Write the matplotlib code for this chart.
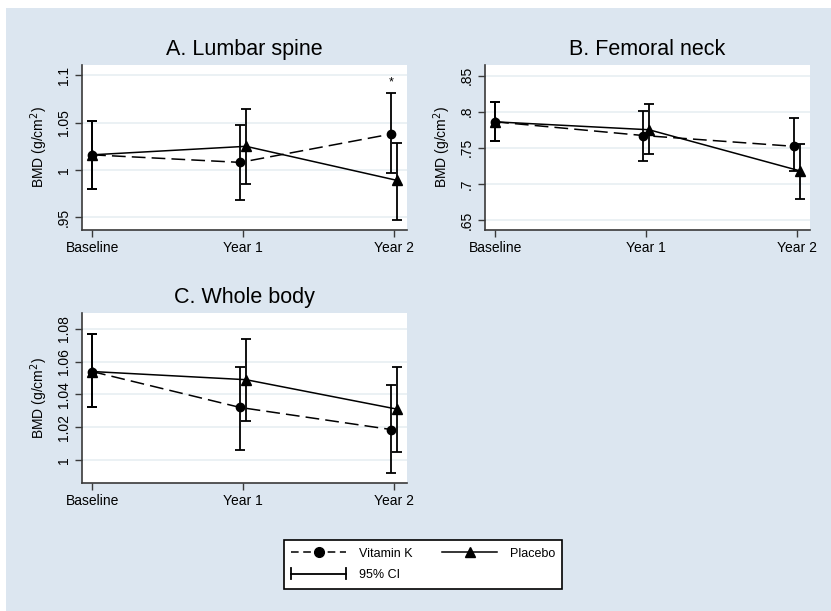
import matplotlib

matplotlib.use("Agg")
import matplotlib.pyplot as plt
from matplotlib.legend_handler import HandlerBase
from matplotlib.lines import Line2D
from matplotlib.patches import Rectangle


# 数据：均值与 95% CI
TIME_LABELS = ["Baseline", "Year 1", "Year 2"]
TIME_POS = [0, 1, 2]
VK_SHIFT = [0.0, -0.018, -0.018]
PL_SHIFT = [0.0, 0.02, 0.02]

LUMBAR_VK = [1.016, 1.008, 1.038]
LUMBAR_VK_LO = [0.980, 0.968, 0.997]
LUMBAR_VK_HI = [1.052, 1.048, 1.081]
LUMBAR_PL = [1.016, 1.025, 0.989]
LUMBAR_PL_LO = [0.980, 0.985, 0.947]
LUMBAR_PL_HI = [1.052, 1.064, 1.029]

FEMORAL_VK = [0.786, 0.767, 0.752]
FEMORAL_VK_LO = [0.760, 0.731, 0.718]
FEMORAL_VK_HI = [0.814, 0.801, 0.791]
FEMORAL_PL = [0.786, 0.775, 0.718]
FEMORAL_PL_LO = [0.760, 0.741, 0.679]
FEMORAL_PL_HI = [0.814, 0.811, 0.755]

WHOLE_VK = [1.054, 1.032, 1.0185]
WHOLE_VK_LO = [1.032, 1.006, 0.992]
WHOLE_VK_HI = [1.077, 1.057, 1.046]
WHOLE_PL = [1.054, 1.049, 1.031]
WHOLE_PL_LO = [1.032, 1.024, 1.005]
WHOLE_PL_HI = [1.077, 1.074, 1.057]

LUMBAR_TICKS = [0.95, 1.0, 1.05, 1.1]
LUMBAR_TICKLABELS = [".95", "1", "1.05", "1.1"]
FEMORAL_TICKS = [0.65, 0.70, 0.75, 0.80, 0.85]
FEMORAL_TICKLABELS = [".65", ".7", ".75", ".8", ".85"]
WHOLE_TICKS = [1.0, 1.02, 1.04, 1.06, 1.08]
WHOLE_TICKLABELS = ["1", "1.02", "1.04", "1.06", "1.08"]

# 样式
W, H = 831, 611
BG = "#dce6f0"
GRID = "#e8eff2"
AXIS = "#3a3a3a"
plt.rcParams["font.family"] = ["Liberation Sans", "DejaVu Sans"]


def px_box(x0, y0, x1, y1):
    """像素坐标 -> figure 坐标。"""
    return [x0 / W, 1 - y1 / H, (x1 - x0) / W, (y1 - y0) / H]


def draw_panel(ax, title, vk, vk_lo, vk_hi, pl, pl_lo, pl_hi, ylim, ticks, ticklabels):
    x_vk = [p + s for p, s in zip(TIME_POS, VK_SHIFT)]
    x_pl = [p + s for p, s in zip(TIME_POS, PL_SHIFT)]

    for y in ticks:
        ax.axhline(y, color=GRID, lw=1.2, zorder=0)

    for xs, m, lo, hi in [(x_vk, vk, vk_lo, vk_hi), (x_pl, pl, pl_lo, pl_hi)]:
        ax.errorbar(
            xs, m,
            yerr=[[a - b for a, b in zip(m, lo)], [b - a for a, b in zip(m, hi)]],
            fmt="none", ecolor="black", elinewidth=1.3, capsize=3.3, capthick=1.3, zorder=2,
        )

    ax.plot(x_pl, pl, color="black", lw=1.1, marker="^", ms=6.5, zorder=3)
    ax.plot(x_vk, vk, color="black", lw=1.1, ls=(0, (9, 4)), marker="o", ms=6, zorder=4)

    ax.set_xlim(-0.067, 2.087)
    ax.set_ylim(*ylim)
    ax.set_xticks(TIME_POS)
    ax.set_xticklabels(TIME_LABELS, fontsize=10)
    ax.set_yticks(ticks)
    ax.set_yticklabels(ticklabels, fontsize=10, rotation=90, va="center")
    ax.set_ylabel("BMD (g/cm$^2$)", fontsize=10, labelpad=5)
    ax.set_title(title, fontsize=15.5, pad=7)
    ax.tick_params(length=5, width=1, color=AXIS, pad=3)
    for side in ["top", "right"]:
        ax.spines[side].set_visible(False)
    for side in ["left", "bottom"]:
        ax.spines[side].set_color(AXIS)
        ax.spines[side].set_linewidth(1.2)
    ax.set_facecolor("white")


class CapHandler(HandlerBase):
    """图例里的 95% CI：横线两端带竖帽。"""

    def create_artists(self, legend, orig_handle, xdescent, ydescent, width, height, fontsize, trans):
        y = height / 2 - ydescent
        line = Line2D([-xdescent, width - xdescent], [y, y], color="black", lw=1.3, transform=trans)
        cap1 = Line2D([-xdescent, -xdescent], [y - 4, y + 4], color="black", lw=1.3, transform=trans)
        cap2 = Line2D([width - xdescent] * 2, [y - 4, y + 4], color="black", lw=1.3, transform=trans)
        return [line, cap1, cap2]


def main() -> None:
    fig = plt.figure(figsize=(W / 100, H / 100), dpi=100, facecolor="white")
    fig.patches.append(Rectangle((6 / W, 0), 1 - 6 / W, 1 - 8 / H, transform=fig.transFigure,
                                 facecolor=BG, edgecolor="none", zorder=-10))

    ax_a = fig.add_axes(px_box(82, 65, 407, 230))
    ax_b = fig.add_axes(px_box(485, 65, 810, 230))
    ax_c = fig.add_axes(px_box(82, 313, 407, 483))

    draw_panel(ax_a, "A. Lumbar spine", LUMBAR_VK, LUMBAR_VK_LO, LUMBAR_VK_HI,
               LUMBAR_PL, LUMBAR_PL_LO, LUMBAR_PL_HI, (0.9365, 1.111), LUMBAR_TICKS, LUMBAR_TICKLABELS)
    draw_panel(ax_b, "B. Femoral neck", FEMORAL_VK, FEMORAL_VK_LO, FEMORAL_VK_HI,
               FEMORAL_PL, FEMORAL_PL_LO, FEMORAL_PL_HI, (0.636, 0.8648), FEMORAL_TICKS, FEMORAL_TICKLABELS)
    draw_panel(ax_c, "C. Whole body", WHOLE_VK, WHOLE_VK_LO, WHOLE_VK_HI,
               WHOLE_PL, WHOLE_PL_LO, WHOLE_PL_HI, (0.9858, 1.0898), WHOLE_TICKS, WHOLE_TICKLABELS)

    # 显著性标记：腰椎 Year 2
    ax_a.text(TIME_POS[2] + VK_SHIFT[2], LUMBAR_VK_HI[2] + 0.005, "*", ha="center", va="bottom", fontsize=9)

    h_vk = Line2D([], [], color="black", lw=1.1, ls=(0, (5, 3)), marker="o", ms=7)
    h_pl = Line2D([], [], color="black", lw=1.1, marker="^", ms=7.5)
    h_ci = Line2D([], [])
    leg = fig.legend(
        [h_vk, h_ci, h_pl], ["Vitamin K", "95% CI", "Placebo"],
        ncol=2, loc="center", bbox_to_anchor=(423 / W, 1 - 564.5 / H),
        fontsize=9, handlelength=4.4, handletextpad=1.0, columnspacing=2.4,
        labelspacing=0.75, borderpad=0.6, fancybox=False, edgecolor="black",
        framealpha=1, handler_map={h_ci: CapHandler()},
    )
    leg.get_frame().set_linewidth(1.2)

    fig.savefig("out.png", dpi=100, facecolor=fig.get_facecolor())
    plt.close(fig)


if __name__ == "__main__":
    main()
